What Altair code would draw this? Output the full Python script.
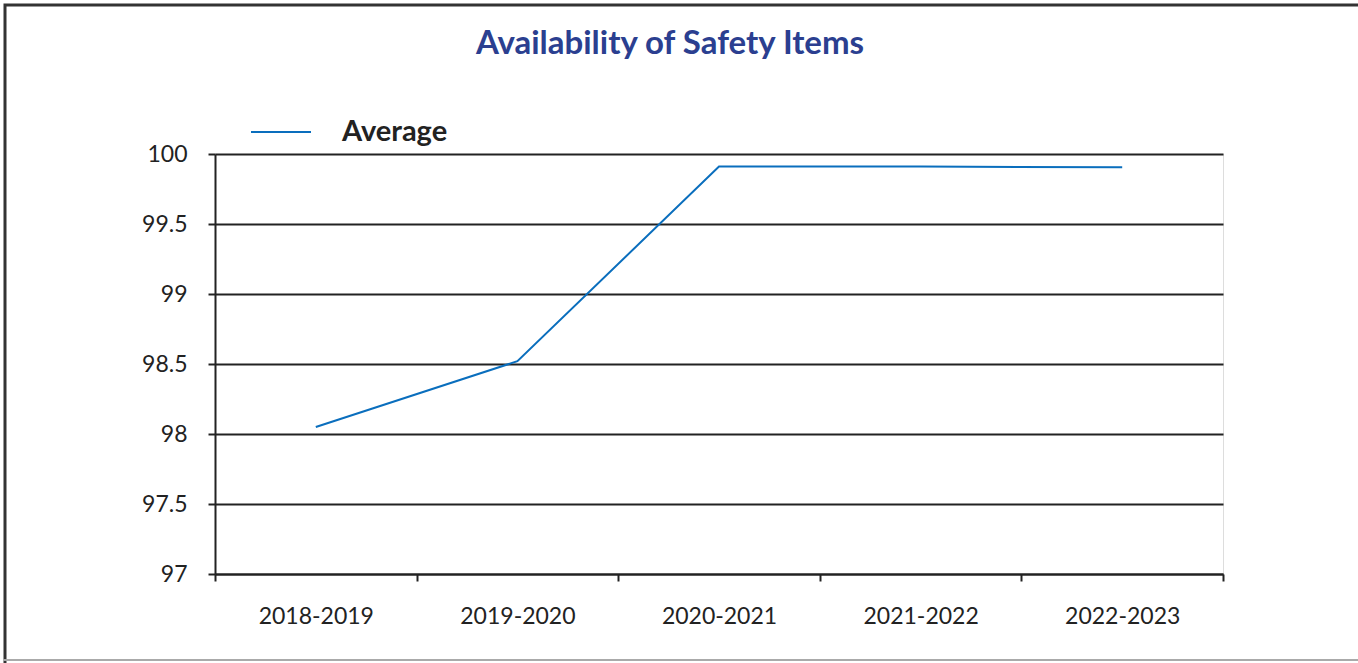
import altair as alt
import pandas as pd

years = ["2018-2019", "2019-2020", "2020-2021", "2021-2022", "2022-2023"]
average = [98.05, 98.52, 99.91, 99.91, 99.905]
series = ["Average"] * len(years)
title_text = ["Availability of Safety Items"]

df = pd.DataFrame({"Year": years, "Value": average, "Series": series})
tdf = pd.DataFrame({"t": title_text})

FONT = "Lato"

line = alt.Chart(df).mark_line(strokeWidth=2).encode(
    x=alt.X("Year:N", sort=years, title=None,
            scale=alt.Scale(paddingInner=0, paddingOuter=0),
            axis=alt.Axis(labelAngle=0, labelFontSize=23, labelColor="#222",
                          labelFont=FONT, labelPadding=24, tickSize=7,
                          tickColor="#222", tickWidth=2, domainColor="#222",
                          domainWidth=2, grid=False, bandPosition=0,
                          tickBand="extent")),
    y=alt.Y("Value:Q", title=None,
            scale=alt.Scale(domain=[97, 100], nice=False, zero=False),
            axis=alt.Axis(values=[97, 97.5, 98, 98.5, 99, 99.5, 100],
                          format="~g",
                          labelFontSize=23, labelColor="#222", labelFont=FONT,
                          labelPadding=21, tickSize=7, tickColor="#222",
                          tickWidth=2, domainColor="#222", domainWidth=2,
                          grid=True, gridColor="#222", gridWidth=2)),
    color=alt.Color("Series:N", scale=alt.Scale(range=["#0a6ebd"]),
                    legend=alt.Legend(title=None, orient="none",
                                      legendX=35, legendY=-53,
                                      symbolType="stroke", symbolSize=3600,
                                      symbolStrokeWidth=2,
                                      labelFontSize=29, labelFont=FONT,
                                      labelFontWeight="bold",
                                      labelColor="#222", labelOffset=30)),
)

frame = alt.Chart(tdf).mark_rect(fill=None, stroke="#333", strokeWidth=3).encode(
    x=alt.value(-210), x2=alt.value(1150),
    y=alt.value(-149), y2=alt.value(530),
)
bottom = alt.Chart(tdf).mark_rule(stroke="#aaa", strokeWidth=2).encode(
    x=alt.value(-212), x2=alt.value(1150), y=alt.value(506),
)

title = alt.Chart(tdf).mark_text(
    font=FONT, fontSize=33, fontWeight="bold", color="#2b3f90",
    align="center", baseline="middle",
).encode(text="t:N", x=alt.value(455), y=alt.value(-110))

chart = alt.layer(frame, bottom, title, line).properties(
    width=1008, height=420,
    autosize=alt.AutoSizeParams(type="none"),
    padding={"left": 215, "top": 154, "right": 135, "bottom": 89},
).configure_view(stroke=None).configure(background="white")

chart.save("out.html", embed_options={"renderer": "svg", "actions": False})
